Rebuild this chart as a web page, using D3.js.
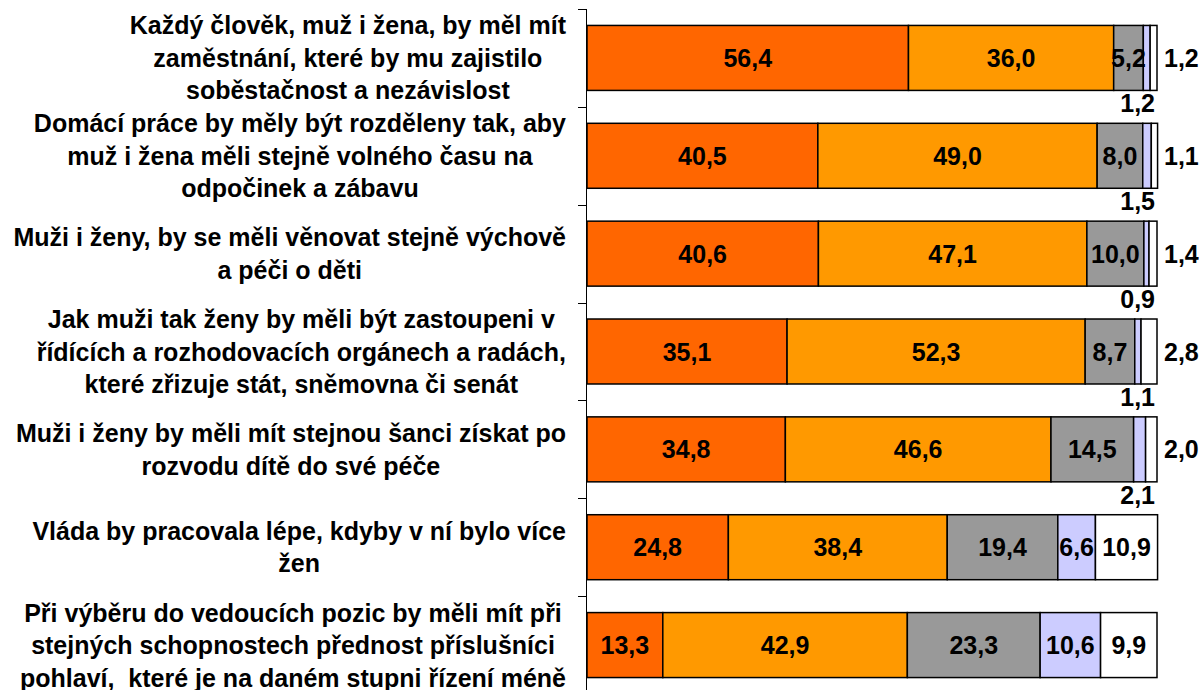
<!DOCTYPE html>
<html>
<head>
<meta charset="utf-8">
<script src="https://cdn.jsdelivr.net/npm/d3@7"></script>
<style>
  html, body { margin: 0; padding: 0; background: #fff; overflow: hidden; }
  svg { display: block; font-family: "Liberation Sans", Arial, sans-serif; font-weight: bold; }
</style>
</head>
<body>
<div id="chart"></div>
<script>
// Category labels (line breaks as in the original)
const categories = [
    ["Každý člověk, muž i žena, by měl mít", "zaměstnání, které by mu zajistilo", "soběstačnost a nezávislost"],
    ["Domácí práce by měly být rozděleny tak, aby", "muž i žena měli stejně volného času na", "odpočinek a zábavu"],
    ["Muži i ženy, by se měli věnovat stejně výchově", "a péči o děti"],
    ["Jak muži tak ženy by měli být zastoupeni v", "řídících a rozhodovacích orgánech a radách,", "které zřizuje stát, sněmovna či senát"],
    ["Muži i ženy by měli mít stejnou šanci získat po", "rozvodu dítě do své péče"],
    ["Vláda by pracovala lépe, kdyby v ní bylo více", "žen"],
    ["Při výběru do vedoucích pozic by měli mít při", "stejných schopnostech přednost příslušníci", "pohlaví,  které je na daném stupni řízení méně"]
];

// Series values (%)
const s1 = [56.4, 40.5, 40.6, 35.1, 34.8, 24.8, 13.3];
const s2 = [36.0, 49.0, 47.1, 52.3, 46.6, 38.4, 42.9];
const s3 = [5.2, 8.0, 10.0, 8.7, 14.5, 19.4, 23.3];
const s4 = [1.2, 1.5, 0.9, 1.1, 2.1, 6.6, 10.6];
const s5 = [1.2, 1.1, 1.4, 2.8, 2.0, 10.9, 9.9];

const seriesList = [s1, s2, s3, s4, s5];
const colors = ["#FF6600", "#FF9900", "#999999", "#CCCCFF", "#FFFFFF"];

const width = 1202, height = 690;

const svg = d3.select("#chart")
    .append("svg")
    .attr("width", width)
    .attr("height", height);

// Build rows for stacking
const keys = seriesList.map((s, i) => "s" + i);
const rows = categories.map((c, i) => {
    const r = { idx: i };
    seriesList.forEach((s, k) => { r[keys[k]] = s[i]; });
    return r;
});
const stacked = d3.stack().keys(keys)(rows);

// Scales
const x = d3.scaleLinear().domain([0, 100]).range([587, 1157]);
const y = d3.scaleBand()
    .domain(d3.range(categories.length))
    .range([9, 694])
    .paddingInner(0.336)
    .paddingOuter(0.168);

const fmt = v => d3.format(".1f")(v).replace(".", ",");

// Bars
const layer = svg.selectAll(".layer")
    .data(stacked)
    .enter()
    .append("g")
    .attr("class", "layer")
    .attr("fill", (d, i) => colors[i]);

layer.selectAll("rect")
    .data(d => d)
    .enter()
    .append("rect")
    .attr("x", d => x(d[0]))
    .attr("y", d => y(d.data.idx))
    .attr("width", d => x(d[1]) - x(d[0]))
    .attr("height", y.bandwidth())
    .attr("stroke", "#000")
    .attr("stroke-width", 1.5);

// Value labels
const valFont = 25;
stacked.forEach((ser, k) => {
    ser.forEach(d => {
        const v = d[1] - d[0];
        const i = d.data.idx;
        let tx, ty, anchor;
        if (v >= 3) {
            tx = (x(d[0]) + x(d[1])) / 2;
            ty = y(i) + y.bandwidth() / 2;
            anchor = "middle";
        } else if (k === 3) {
            // small lavender: below the bar, right aligned to bar end
            tx = x(100) - 2;
            ty = y(i) + y.bandwidth() + 13;
            anchor = "end";
        } else {
            // small white: to the right of the bar
            tx = x(100) + 7;
            ty = y(i) + y.bandwidth() / 2;
            anchor = "start";
        }
        svg.append("text")
            .attr("x", tx)
            .attr("y", ty)
            .attr("dy", "0.36em")
            .attr("text-anchor", anchor)
            .attr("font-size", valFont + "px")
            .attr("fill", "#000")
            .text(fmt(v));
    });
});

// Axis line and ticks at category boundaries
const step = y.step();
const y0 = y.range()[0];
svg.append("path")
    .attr("d", `M586.5,${y0}V${height + 5}`)
    .attr("stroke", "#000")
    .attr("stroke-width", 1)
    .attr("fill", "none");

svg.selectAll(".tick-line")
    .data(d3.range(categories.length + 1))
    .enter()
    .append("line")
    .attr("class", "tick-line")
    .attr("x1", 578)
    .attr("x2", 586.5)
    .attr("y1", d => Math.round(y0 + d * step) + 0.5)
    .attr("y2", d => Math.round(y0 + d * step) + 0.5)
    .attr("stroke", "#000")
    .attr("stroke-width", 1);

// Category labels: block right-aligned, lines centred within block
const catFont = 25, lineH = 32.5, rightEdge = 566;
categories.forEach((lines, i) => {
    const g = svg.append("g");
    const cy = y(i) + y.bandwidth() / 2;
    const texts = lines.map((ln, j) => g.append("text")
        .attr("y", cy + (j - (lines.length - 1) / 2) * lineH)
        .attr("dy", "0.36em")
        .attr("text-anchor", "middle")
        .attr("font-size", catFont + "px")
        .attr("fill", "#000")
        .attr("xml:space", "preserve")
        .style("white-space", "pre")
        .text(ln));
    const maxW = d3.max(texts, t => t.node().getComputedTextLength());
    texts.forEach(t => t.attr("x", rightEdge - maxW / 2));
});
</script>
</body>
</html>
